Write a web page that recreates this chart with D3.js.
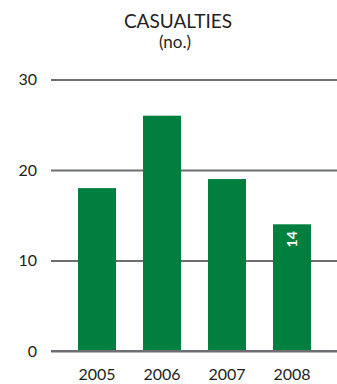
<!DOCTYPE html>
<html>
<head>
<meta charset="utf-8">
<script src="https://cdn.jsdelivr.net/npm/d3@7"></script>
<style>
  html, body { margin: 0; padding: 0; background: #fff; }
  svg { display: block; font-family: Lato, "Open Sans", sans-serif; }
</style>
</head>
<body>
<svg id="chart" width="337" height="384"></svg>
<script>
// Casualties per year
const years = ["2005", "2006", "2007", "2008"];
const casualties = [18, 26, 19, 14];
const yTicks = [0, 10, 20, 30];
const labelledYears = ["2008"];

const svg = d3.select("#chart");
const margin = { top: 79.5, right: 0, bottom: 33, left: 51 };
const W = 337, H = 384;

const x = d3.scaleBand()
  .domain(years)
  .range([78, 311])
  .paddingInner(27 / 65)
  .paddingOuter(0);

const y = d3.scaleLinear()
  .domain([0, 30])
  .range([H - margin.bottom, margin.top]);

// Title
svg.append("text")
  .attr("x", 178).attr("y", 28)
  .attr("text-anchor", "middle")
  .attr("font-size", 19)
  .attr("fill", "#231f20")
  .text("CASUALTIES");
svg.append("text")
  .attr("x", 175).attr("y", 48)
  .attr("text-anchor", "middle")
  .attr("font-size", 17)
  .attr("fill", "#231f20")
  .text("(no.)");

// Gridlines with value labels
const yAxis = d3.axisLeft(y)
  .tickValues(yTicks)
  .tickSize(-(W - margin.left))
  .tickPadding(14)
  .tickFormat(d3.format("d"));

const gy = svg.append("g")
  .attr("transform", `translate(${margin.left},0)`)
  .call(yAxis);
gy.select(".domain").remove();
gy.selectAll(".tick line")
  .attr("stroke", "#6d6e71")
  .attr("stroke-width", 2.2);
gy.selectAll(".tick text")
  .attr("font-size", 16)
  .attr("font-family", "Lato, 'Open Sans', sans-serif")
  .attr("fill", "#231f20");

// Bars
svg.append("g")
  .selectAll("rect")
  .data(years.map((yr, i) => ({ yr, v: casualties[i] })))
  .join("rect")
  .attr("x", d => x(d.yr))
  .attr("width", x.bandwidth())
  .attr("y", d => y(d.v))
  .attr("height", d => y(0) - y(d.v) - 1)
  .attr("fill", "#007f3e");

// Redraw the baseline on top of bars
svg.append("line")
  .attr("x1", margin.left).attr("x2", W)
  .attr("y1", y(0)).attr("y2", y(0))
  .attr("stroke", "#6d6e71")
  .attr("stroke-width", 2.2);

// Year labels
const xAxis = d3.axisBottom(x).tickSize(0).tickPadding(18);
const gx = svg.append("g")
  .attr("transform", `translate(0,${y(0)})`)
  .call(xAxis);
gx.select(".domain").remove();
gx.selectAll(".tick text")
  .attr("font-size", 16)
  .attr("font-family", "Lato, 'Open Sans', sans-serif")
  .attr("fill", "#231f20");

// Value label inside the latest bar
svg.append("g")
  .selectAll("text")
  .data(years.map((yr, i) => ({ yr, v: casualties[i] })).filter(d => labelledYears.includes(d.yr)))
  .join("text")
  .attr("transform", d => `translate(${x(d.yr) + x.bandwidth() / 2 + 5},${y(d.v) + 15}) rotate(-90)`)
  .attr("text-anchor", "middle")
  .attr("font-size", 14)
  .attr("font-weight", "bold")
  .attr("fill", "#fff")
  .text(d => d.v);
</script>
</body>
</html>
